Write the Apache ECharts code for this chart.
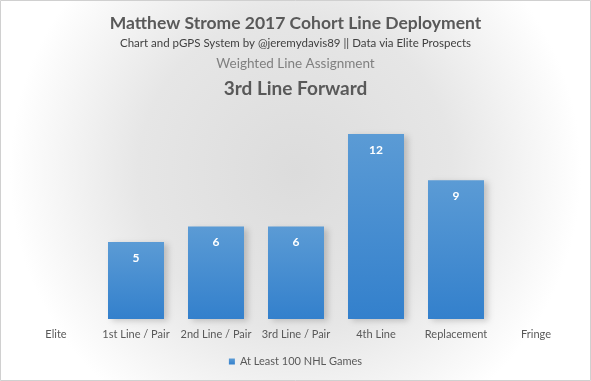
<!DOCTYPE html>
<html><head><meta charset="utf-8">
<script src="https://cdn.jsdelivr.net/npm/echarts@6/dist/echarts.min.js"></script>
<style>html,body{margin:0;padding:0;}#c{width:591px;height:381px;}</style>
</head><body><div id="c"></div>
<script>
const categories = ['Elite','1st Line / Pair','2nd Line / Pair','3rd Line / Pair','4th Line','Replacement','Fringe'];
const values = [null, 5, 6, 6, 12, 9, null];
const seriesName = 'At Least 100 NHL Games';
const titleText = 'Matthew Strome 2017 Cohort Line Deployment';
const subText = 'Chart and pGPS System by @jeremydavis89 || Data via Elite Prospects';
const heading1 = 'Weighted Line Assignment';
const heading2 = '3rd Line Forward';

const chart = echarts.init(document.getElementById('c'), null, {renderer:'canvas'});
const font = 'Lato, "Open Sans", sans-serif';
chart.setOption({
  backgroundColor: {
    type:'radial', x:0.5, y:0.45, r:0.75,
    colorStops:[{offset:0,color:'#dcdcdc'},{offset:0.55,color:'#e6e6e6'},{offset:1,color:'#ffffff'}]
  },
  graphic:[{type:'rect', shape:{x:0.5,y:0.5,width:590,height:380}, style:{fill:'none',stroke:'#d0d0d0',lineWidth:1}}],
  title:[
    {text:titleText, left:'center', top:9, textStyle:{fontFamily:font, fontSize:17.5, fontWeight:'bold', color:'#595959'}},
    {text:subText, left:'center', top:32, textStyle:{fontFamily:font, fontSize:11.5, fontWeight:'normal', color:'#404040'}},
    {text:heading1, left:'center', top:52, textStyle:{fontFamily:font, fontSize:13.5, fontWeight:'normal', color:'#808080'}},
    {text:heading2, left:'center', top:74, textStyle:{fontFamily:font, fontSize:19, fontWeight:'bold', color:'#595959'}}
  ],
  legend:{bottom:9, left:'center', itemWidth:6, itemHeight:6, itemGap:4,
    icon:'rect', textStyle:{fontFamily:font, fontSize:11, color:'#595959'}, data:[seriesName]},
  grid:{left:16, right:15, top:134, bottom:62},
  xAxis:{type:'category', data:categories, axisLine:{show:false}, axisTick:{show:false},
    axisLabel:{fontFamily:font, fontSize:11, color:'#595959', margin:10, interval:0}},
  yAxis:{type:'value', min:0, max:12, show:false, splitLine:{show:false}},
  series:[{
    name:seriesName, type:'bar', data:values, barWidth:'70%',
    itemStyle:{color:{type:'linear',x:0,y:0,x2:0,y2:1,colorStops:[{offset:0,color:'#5b9bd5'},{offset:1,color:'#3380cc'}]},
      shadowColor:'rgba(0,0,0,0.18)', shadowBlur:6, shadowOffsetX:4, shadowOffsetY:2},
    label:{show:true, position:'insideTop', distance:10, color:'#ffffff', fontFamily:font, fontSize:12, fontWeight:'bold'}
  }]
});
</script></body></html>
